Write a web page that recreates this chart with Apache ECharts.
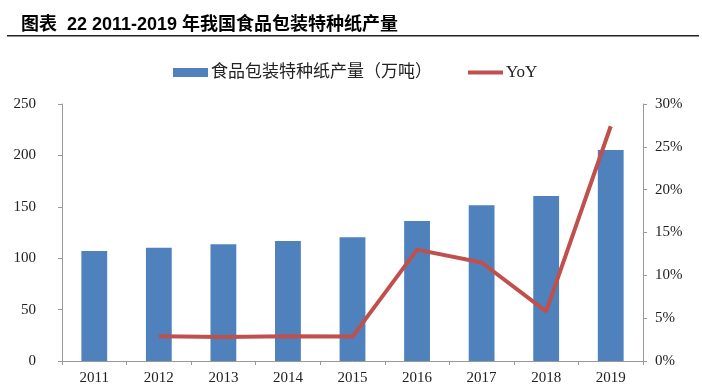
<!DOCTYPE html>
<html><head><meta charset="utf-8">
<script src="https://cdn.jsdelivr.net/npm/echarts@6/dist/echarts.min.js"></script>
<style>html,body{margin:0;padding:0;background:#fff}#c{width:702px;height:387px}</style>
</head><body><div id="c"></div>
<script>
const years = ['2011','2012','2013','2014','2015','2016','2017','2018','2019'];
const output = [107, 110.2, 113.5, 116.7, 120.3, 136.2, 151.4, 160.5, 205.3];
const yoy = [null, 2.9, 2.8, 2.9, 2.85, 13.0, 11.5, 5.8, 27.4];
const leftTicks = [0, 50, 100, 150, 200, 250];
const rightTicks = [0, 5, 10, 15, 20, 25, 30];

const chart = echarts.init(document.getElementById('c'), null, {renderer:'canvas'});
const serif = '"Liberation Serif","Times New Roman",serif';
const cjk = '"Liberation Serif","Noto Sans CJK SC",serif';
chart.setOption({
  animation:false,
  title:{text:'图表  22 2011-2019 年我国食品包装特种纸产量', left:16, top:11,
    textStyle:{fontSize:18, fontWeight:'bold', color:'#000', fontFamily:'"Liberation Sans","Noto Sans CJK SC",sans-serif'}},
  graphic:[{type:'rect', shape:{x:7, y:35, width:692, height:1.5}, style:{fill:'#222'}}],
  legend:{top:59, left:168, itemGap:36, itemWidth:35, itemHeight:9,
    textStyle:{fontSize:17, color:'#222', fontFamily:cjk, padding:[0,0,0,-2]},
    data:[{name:'食品包装特种纸产量（万吨）', icon:'rect'},
          {name:'YoY', icon:'path://M0,0 L36,0 L36,4 L0,4 Z', itemStyle:{color:'#C0504D'}}]},
  grid:{left:62, right:59, top:104, bottom:26},
  xAxis:{type:'category', data:years,
    axisLine:{lineStyle:{color:'#999'}}, axisTick:{show:true, length:4, lineStyle:{color:'#999'}},
    axisLabel:{fontSize:15, color:'#222', fontFamily:serif, margin:10}},
  yAxis:[{type:'value', min:0, max:250, interval:50, position:'left',
    axisLine:{show:true, lineStyle:{color:'#999'}}, axisTick:{show:true, length:4, lineStyle:{color:'#999'}},
    splitLine:{show:false},
    axisLabel:{fontSize:15, color:'#222', fontFamily:serif, margin:26,
      formatter:v=>leftTicks.includes(v)?String(v):''}},
   {type:'value', min:0, max:30, interval:5, position:'right',
    axisLine:{show:true, lineStyle:{color:'#999'}}, axisTick:{show:true, length:4, lineStyle:{color:'#999'}},
    splitLine:{show:false},
    axisLabel:{fontSize:15, color:'#222', fontFamily:serif, margin:12,
      formatter:v=>rightTicks.includes(v)?v+'%':''}}],
  series:[
    {name:'食品包装特种纸产量（万吨）', type:'bar', data:output, barWidth:'40%',
      itemStyle:{color:'#4F81BD'}},
    {name:'YoY', type:'line', yAxisIndex:1, data:yoy, symbol:'none',
      lineStyle:{color:'#C0504D', width:4}, itemStyle:{color:'#C0504D'}}
  ]
});
</script></body></html>
